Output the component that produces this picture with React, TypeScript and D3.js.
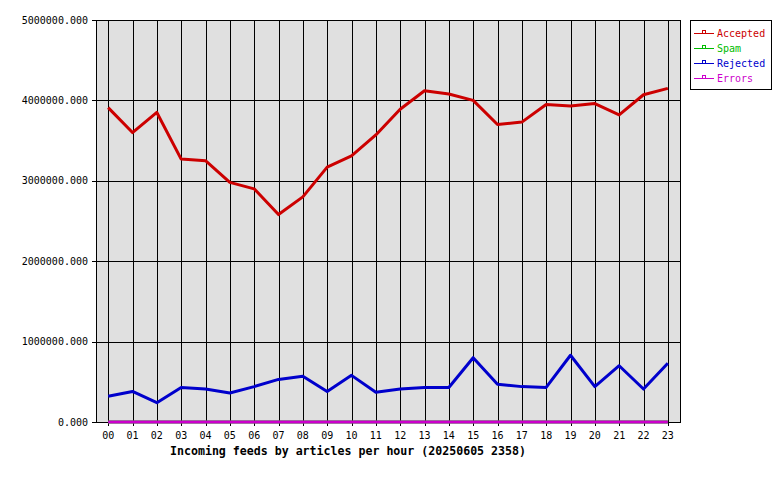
import * as d3 from "d3";

const hours = ["00","01","02","03","04","05","06","07","08","09","10","11","12","13","14","15","16","17","18","19","20","21","22","23"];
const accepted = [3910000,3600000,3850000,3270000,3250000,2980000,2900000,2580000,2800000,3170000,3310000,3570000,3890000,4120000,4080000,4000000,3700000,3730000,3950000,3930000,3960000,3820000,4070000,4150000];
const spam = [0,0,0,0,0,0,0,0,0,0,0,0,0,0,0,0,0,0,0,0,0,0,0,0];
const rejected = [320000,380000,240000,430000,410000,360000,440000,530000,570000,380000,580000,370000,410000,430000,430000,800000,470000,440000,430000,830000,440000,700000,410000,730000];
const errors = [0,0,0,0,0,0,0,0,0,0,0,0,0,0,0,0,0,0,0,0,0,0,0,0];
const yTicks = [0,1000000,2000000,3000000,4000000,5000000];
const seriesNames = ["Accepted","Spam","Rejected","Errors"];
const seriesColors = ["#cc0000","#00bb00","#0000cc","#cc00cc"];
const title = "Incoming feeds by articles per hour (20250605 2358)";

const width = 780;
const height = 480;
const left = 96;
const right = 680;
const top = 20;
const bottom = 422;
const font = "'DejaVu Sans Mono', monospace";

export default function App() {
  const x = d3.scalePoint<string>().domain(hours).range([left, right]).padding(0.5);
  const y = d3.scaleLinear().domain([0, 5000000]).range([bottom, top]);
  const line = d3.line<number>()
    .x((_, i) => x(hours[i]) as number)
    .y(d => y(d));
  const allSeries = [accepted, spam, rejected, errors];

  return (
    <svg width={width} height={height} style={{ position: "absolute", left: 0, top: 0, background: "#fff" }}>
      <rect x={left} y={top} width={right - left} height={bottom - top} fill="#e0e0e0" />
      <g shapeRendering="crispEdges" stroke="#000" strokeWidth={1}>
        {yTicks.map(t => (
          <line key={t} x1={left - 4} x2={right} y1={Math.round(y(t)) + 0.5} y2={Math.round(y(t)) + 0.5} />
        ))}
        {hours.map(h => (
          <line key={h} x1={Math.round(x(h) as number) + 0.5} x2={Math.round(x(h) as number) + 0.5} y1={top} y2={bottom + 4} />
        ))}
        <line x1={left + 0.5} x2={left + 0.5} y1={top} y2={bottom + 1} />
        <line x1={right + 0.5} x2={right + 0.5} y1={top} y2={bottom + 1} />
      </g>
      {yTicks.map(t => (
        <text key={t} x={88} y={y(t)} dy="0.35em" textAnchor="end" fontFamily={font} fontSize={10} fill="#000">
          {d3.format(".3f")(t)}
        </text>
      ))}
      {hours.map(h => (
        <text key={h} x={x(h) as number} y={439} textAnchor="middle" fontFamily={font} fontSize={10} fill="#000">
          {h}
        </text>
      ))}
      <text x={348} y={455} textAnchor="middle" fontFamily={font} fontSize={11.6} fontWeight="bold" fill="#000">
        {title}
      </text>
      {allSeries.map((s, i) => (
        <path key={seriesNames[i]} d={line(s) as string} fill="none" stroke={seriesColors[i]} strokeWidth={3} strokeLinejoin="round" />
      ))}
      <rect x={690.5} y={20.5} width={81} height={69} fill="#fff" stroke="#000" shapeRendering="crispEdges" />
      {seriesNames.map((n, i) => {
        const ly = 33 + i * 15;
        return (
          <g key={n}>
            <rect x={694} y={ly} width={20} height={1} fill={seriesColors[i]} />
            <rect x={702.5} y={ly - 2.5} width={3} height={3} fill="none" stroke={seriesColors[i]} shapeRendering="crispEdges" />
            <text x={717} y={ly} dy="0.35em" fontFamily={font} fontSize={10} fill={seriesColors[i]}>{n}</text>
          </g>
        );
      })}
    </svg>
  );
}
